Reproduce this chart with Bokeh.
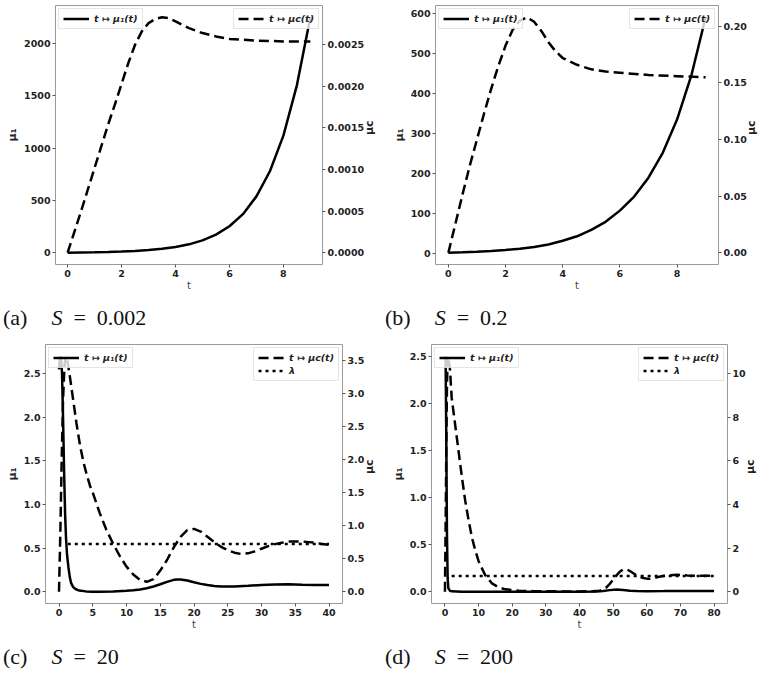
import math
from bokeh.plotting import figure
from bokeh.models import (Range1d, LinearAxis, FixedTicker, PrintfTickFormatter,
                          Legend, LegendItem, Div)
from bokeh.layouts import column, row
from bokeh.embed import file_html
from bokeh.resources import INLINE

# ---------------- data ----------------
# (a) S = 0.002
t_a_mu1 = [0, 0.5, 1, 1.5, 2, 2.5, 3, 3.5, 4, 4.5, 5, 5.5, 6, 6.5, 7, 7.5, 8, 8.5, 9]
mu1_a = [2, 4, 6, 9, 13, 19, 27, 39, 57, 82, 120, 175, 255, 370, 540, 780, 1120, 1600, 2250]
t_a_muc = [0, 0.25, 0.5, 0.75, 1, 1.25, 1.5, 1.75, 2, 2.25, 2.5, 2.75, 3, 3.25, 3.5, 3.75,
           4, 4.5, 5, 5.5, 6, 7, 8, 9]
muc_a = [0, 0.00025, 0.0005, 0.00076, 0.00102, 0.00128, 0.00154, 0.00178, 0.00203, 0.00228,
         0.0025, 0.00266, 0.00276, 0.00281, 0.00283, 0.00282, 0.00278, 0.0027, 0.00264,
         0.0026, 0.00257, 0.00255, 0.00254, 0.00254]

# (b) S = 0.2
t_b_mu1 = [0, 0.5, 1, 1.5, 2, 2.5, 3, 3.5, 4, 4.5, 5, 5.5, 6, 6.5, 7, 7.5, 8, 8.5, 9]
mu1_b = [3, 4.2, 5.5, 7.5, 10, 13, 17.5, 23.5, 33, 44, 60, 80, 108, 143, 190, 252, 335, 445, 590]
t_b_muc = [0, 0.25, 0.5, 0.75, 1, 1.25, 1.5, 1.75, 2, 2.25, 2.5, 2.75, 3, 3.25, 3.5, 3.75,
           4, 4.5, 5, 5.5, 6, 7, 8, 9]
muc_b = [0, 0.026, 0.052, 0.077, 0.1, 0.123, 0.145, 0.165, 0.183, 0.197, 0.205, 0.208, 0.204,
         0.196, 0.186, 0.178, 0.172, 0.166, 0.162, 0.160, 0.159, 0.157, 0.156, 0.155]

# (c) S = 20
t_c_mu1 = [0, 0.15, 0.3, 0.45, 0.6, 0.75, 0.9, 1.05, 1.2, 1.4, 1.6, 1.8, 2.1, 2.5, 3, 4, 5, 6,
           8, 10, 11, 12, 13, 14, 15, 16, 17, 17.5, 18, 19, 20, 21, 22, 23, 24, 25, 26, 28,
           30, 32, 34, 36, 38, 40]
mu1_c = [2.55, 2.68, 2.70, 2.5, 2.0, 1.4, 0.9, 0.6, 0.42, 0.28, 0.17, 0.1, 0.055, 0.03, 0.015,
         0.006, 0.003, 0.002, 0.004, 0.012, 0.018, 0.028, 0.042, 0.062, 0.088, 0.115, 0.138,
         0.143, 0.142, 0.13, 0.11, 0.092, 0.078, 0.068, 0.063, 0.062, 0.063, 0.07, 0.08,
         0.086, 0.087, 0.083, 0.08, 0.078]
t_c_muc = [0, 0.2, 0.4, 0.6, 0.8, 1.0, 1.2, 1.6, 2.1, 2.6, 3.1, 3.6, 4.1, 4.6,
           5, 6, 7, 8, 9, 10, 11, 12, 13, 14, 15, 16, 17, 18, 19, 20, 21, 22, 23, 24, 25,
           26, 27, 28, 29, 30, 31, 32, 33, 34, 35, 36, 37, 38, 39, 40]
muc_c = [0, 0.9, 2.0, 2.9, 3.4, 3.56, 3.52, 3.26, 2.9, 2.54, 2.22, 1.97, 1.77, 1.6,
         1.5, 1.2, 0.94, 0.73, 0.54, 0.38, 0.26, 0.18, 0.15, 0.19, 0.32, 0.48, 0.67, 0.83,
         0.93, 0.95, 0.91, 0.83, 0.75, 0.68, 0.63, 0.59, 0.57, 0.58, 0.61, 0.65, 0.69, 0.72,
         0.74, 0.76, 0.76, 0.76, 0.75, 0.74, 0.72, 0.71]
t_c_lam = [1.3, 40]
lam_c = [0.72, 0.72]

# (d) S = 200
t_d_mu1 = [0, 0.2, 0.4, 0.6, 0.8, 1, 1.5, 2, 5, 10, 20, 30, 40, 45, 47, 49, 51, 53, 55, 57,
           60, 65, 70, 75, 80]
mu1_d = [2.5, 2.45, 1.6, 0.6, 0.15, 0.04, 0.01, 0.005, 0.002, 0.001, 0.001, 0.001, 0.002,
         0.003, 0.008, 0.018, 0.025, 0.02, 0.012, 0.008, 0.007, 0.008, 0.01, 0.01, 0.01]
t_d_muc = [0, 0.2, 0.4, 0.6, 0.8, 1, 1.5, 2, 3, 4, 5, 6, 7, 8, 9, 10, 12, 14, 16, 18, 22, 26,
           30, 35, 40, 44, 46, 47, 48, 49, 50, 51, 52, 53, 54, 55, 56, 57, 58, 59, 60, 61, 62,
           63, 64, 66, 68, 69, 70, 72, 75, 80]
muc_d = [0, 3.0, 6.5, 9.5, 10.7, 10.8, 10.2, 8.9, 7.7, 6.5, 5.3, 4.2, 3.3, 2.5, 1.9, 1.4,
         0.75, 0.38, 0.2, 0.11, 0.05, 0.03, 0.02, 0.015, 0.015, 0.02, 0.05, 0.1, 0.2, 0.36,
         0.55, 0.75, 0.92, 1.02, 1.03, 0.95, 0.85, 0.75, 0.68, 0.63, 0.6, 0.6, 0.62, 0.66,
         0.7, 0.74, 0.77, 0.78, 0.77, 0.75, 0.73, 0.73]
t_d_lam = [2, 80]
lam_d = [0.72, 0.72]

# tick positions / labels
xt_a = [0, 2, 4, 6, 8]
yl_a = [0, 500, 1000, 1500, 2000]
yr_a = [0, 0.0005, 0.0010, 0.0015, 0.0020, 0.0025]
xt_b = [0, 2, 4, 6, 8]
yl_b = [0, 100, 200, 300, 400, 500, 600]
yr_b = [0, 0.05, 0.10, 0.15, 0.20]
xt_c = [0, 5, 10, 15, 20, 25, 30, 35, 40]
yl_c = [0, 0.5, 1.0, 1.5, 2.0, 2.5]
yr_c = [0, 0.5, 1.0, 1.5, 2.0, 2.5, 3.0, 3.5]
xt_d = [0, 10, 20, 30, 40, 50, 60, 70, 80]
yl_d = [0, 0.5, 1.0, 1.5, 2.0, 2.5]
yr_d = [0, 2, 4, 6, 8, 10]

captions = ["(a)", "(b)", "(c)", "(d)"]
s_values = ["0.002", "0.2", "20", "200"]

FONT = "DejaVu Sans"
LEG1 = "t ↦ μ₁(t)"
LEG2 = "t ↦ μc(t)"
LEG3 = "λ"


def padded(vals_lists):
    lo = min(min(v) for v in vals_lists)
    hi = max(max(v) for v in vals_lists)
    s = hi - lo
    return lo - 0.05 * s, hi + 0.05 * s


def style_axis(ax, label, label_bold=True):
    ax.axis_label = label
    ax.axis_label_text_font = FONT
    ax.axis_label_text_font_size = "11px"
    ax.axis_label_text_font_style = "bold" if label_bold else "normal"
    ax.axis_label_text_color = "#222222" if label_bold else "#444444"
    ax.axis_label_standoff = 2
    ax.major_label_text_font = FONT
    ax.major_label_text_font_size = "9.5px"
    ax.major_label_text_font_style = "bold"
    ax.major_label_text_color = "#222222"
    ax.major_label_standoff = 2
    ax.axis_line_color = None
    ax.major_tick_line_color = "#555555"
    ax.major_tick_out = 3
    ax.major_tick_in = 0
    ax.minor_tick_line_color = None


def panel(t1, m1, t2, mc, tl, lam, xt, ylt, yrt, lfmt, rfmt,
          fw, fh, bl, br, bt, bb, with_lambda):
    xr = padded([t1, t2] + ([tl] if with_lambda else []))
    yl = padded([m1])
    yr = padded([mc] + ([lam] if with_lambda else []))
    p = figure(frame_width=fw, frame_height=fh, output_backend="svg", toolbar_location=None,
               x_range=Range1d(*xr), y_range=Range1d(*yl),
               min_border_left=bl, min_border_right=br, min_border_top=bt,
               min_border_bottom=bb)
    p.extra_y_ranges = {"mc": Range1d(*yr)}
    p.xgrid.visible = False
    p.ygrid.visible = False
    p.outline_line_color = "#9a9a9a"
    p.outline_line_width = 1
    p.background_fill_color = "white"
    p.border_fill_color = "white"

    style_axis(p.xaxis[0], "t", label_bold=False)
    p.xaxis[0].axis_label_text_font_size = "10px"
    p.xaxis[0].axis_label_standoff = 0
    p.xaxis[0].ticker = FixedTicker(ticks=xt)
    style_axis(p.yaxis[0], "μ₁")
    p.yaxis[0].ticker = FixedTicker(ticks=ylt)
    p.yaxis[0].formatter = PrintfTickFormatter(format=lfmt)

    rax = LinearAxis(y_range_name="mc")
    style_axis(rax, "μc")
    rax.ticker = FixedTicker(ticks=yrt)
    rax.formatter = PrintfTickFormatter(format=rfmt)
    if "axis_label_orientation" in rax.properties():
        rax.axis_label_orientation = math.pi / 2
    p.add_layout(rax, "right")

    r1 = p.line(t1, m1, line_color="black", line_width=2.5)
    r2 = p.line(t2, mc, y_range_name="mc", line_color="black", line_width=2.5,
                line_dash="10 5")
    items_right = [LegendItem(label=LEG2, renderers=[r2])]
    if with_lambda:
        r3 = p.line(tl, lam, y_range_name="mc", line_color="black", line_width=2.5,
                    line_dash="3 4")
        items_right.append(LegendItem(label=LEG3, renderers=[r3]))

    for items, loc in (([LegendItem(label=LEG1, renderers=[r1])], "top_left"),
                       (items_right, "top_right")):
        lg = Legend(items=items, location=loc)
        lg.label_text_font = FONT
        lg.label_text_font_size = "9.5px"
        lg.label_text_font_style = "bold italic"
        lg.label_text_color = "#222222"
        lg.glyph_width = 26
        lg.glyph_height = 11
        lg.label_height = 11
        lg.label_standoff = 5
        lg.padding = 4
        lg.spacing = 2
        lg.margin = 3
        lg.border_line_color = "#cccccc"
        lg.background_fill_alpha = 0.8
        p.add_layout(lg)
    return p


def caption(i, w, h, pad_top, pad_left):
    html = ('<div style="font-family:\'Liberation Serif\',serif;font-size:22px;color:#111;'
            'padding-top:%dpx;padding-left:%dpx;white-space:nowrap;line-height:24px">'
            '%s<span style="display:inline-block;width:24px"></span>'
            '<i>S</i>&ensp;=&ensp;%s</div>') % (pad_top, pad_left, captions[i], s_values[i])
    return Div(text=html, width=w, height=h, margin=0)


pa = panel(t_a_mu1, mu1_a, t_a_muc, muc_a, None, None, xt_a, yl_a, yr_a, "%d", "%.4f",
           267, 259, 55, 58, 5, 30, False)
pb = panel(t_b_mu1, mu1_b, t_b_muc, muc_b, None, None, xt_b, yl_b, yr_b, "%d", "%.2f",
           283, 259, 50, 47, 5, 30, False)
pc = panel(t_c_mu1, mu1_c, t_c_muc, muc_c, t_c_lam, lam_c, xt_c, yl_c, yr_c, "%.1f", "%.1f",
           297, 259, 45, 38, 2, 30, True)
pd = panel(t_d_mu1, mu1_d, t_d_muc, muc_d, t_d_lam, lam_d, xt_d, yl_d, yr_d, "%.1f", "%d",
           296, 259, 46, 38, 2, 30, True)

layout = column(
    row(pa, pb, spacing=0),
    row(caption(0, 380, 48, 12, 3), caption(1, 380, 48, 12, 5), spacing=0),
    row(pc, pd, spacing=0),
    row(caption(2, 380, 40, 12, 3), caption(3, 380, 40, 12, 5), spacing=0),
    spacing=0,
)

open("out.html", "w").write(file_html(layout, INLINE))
